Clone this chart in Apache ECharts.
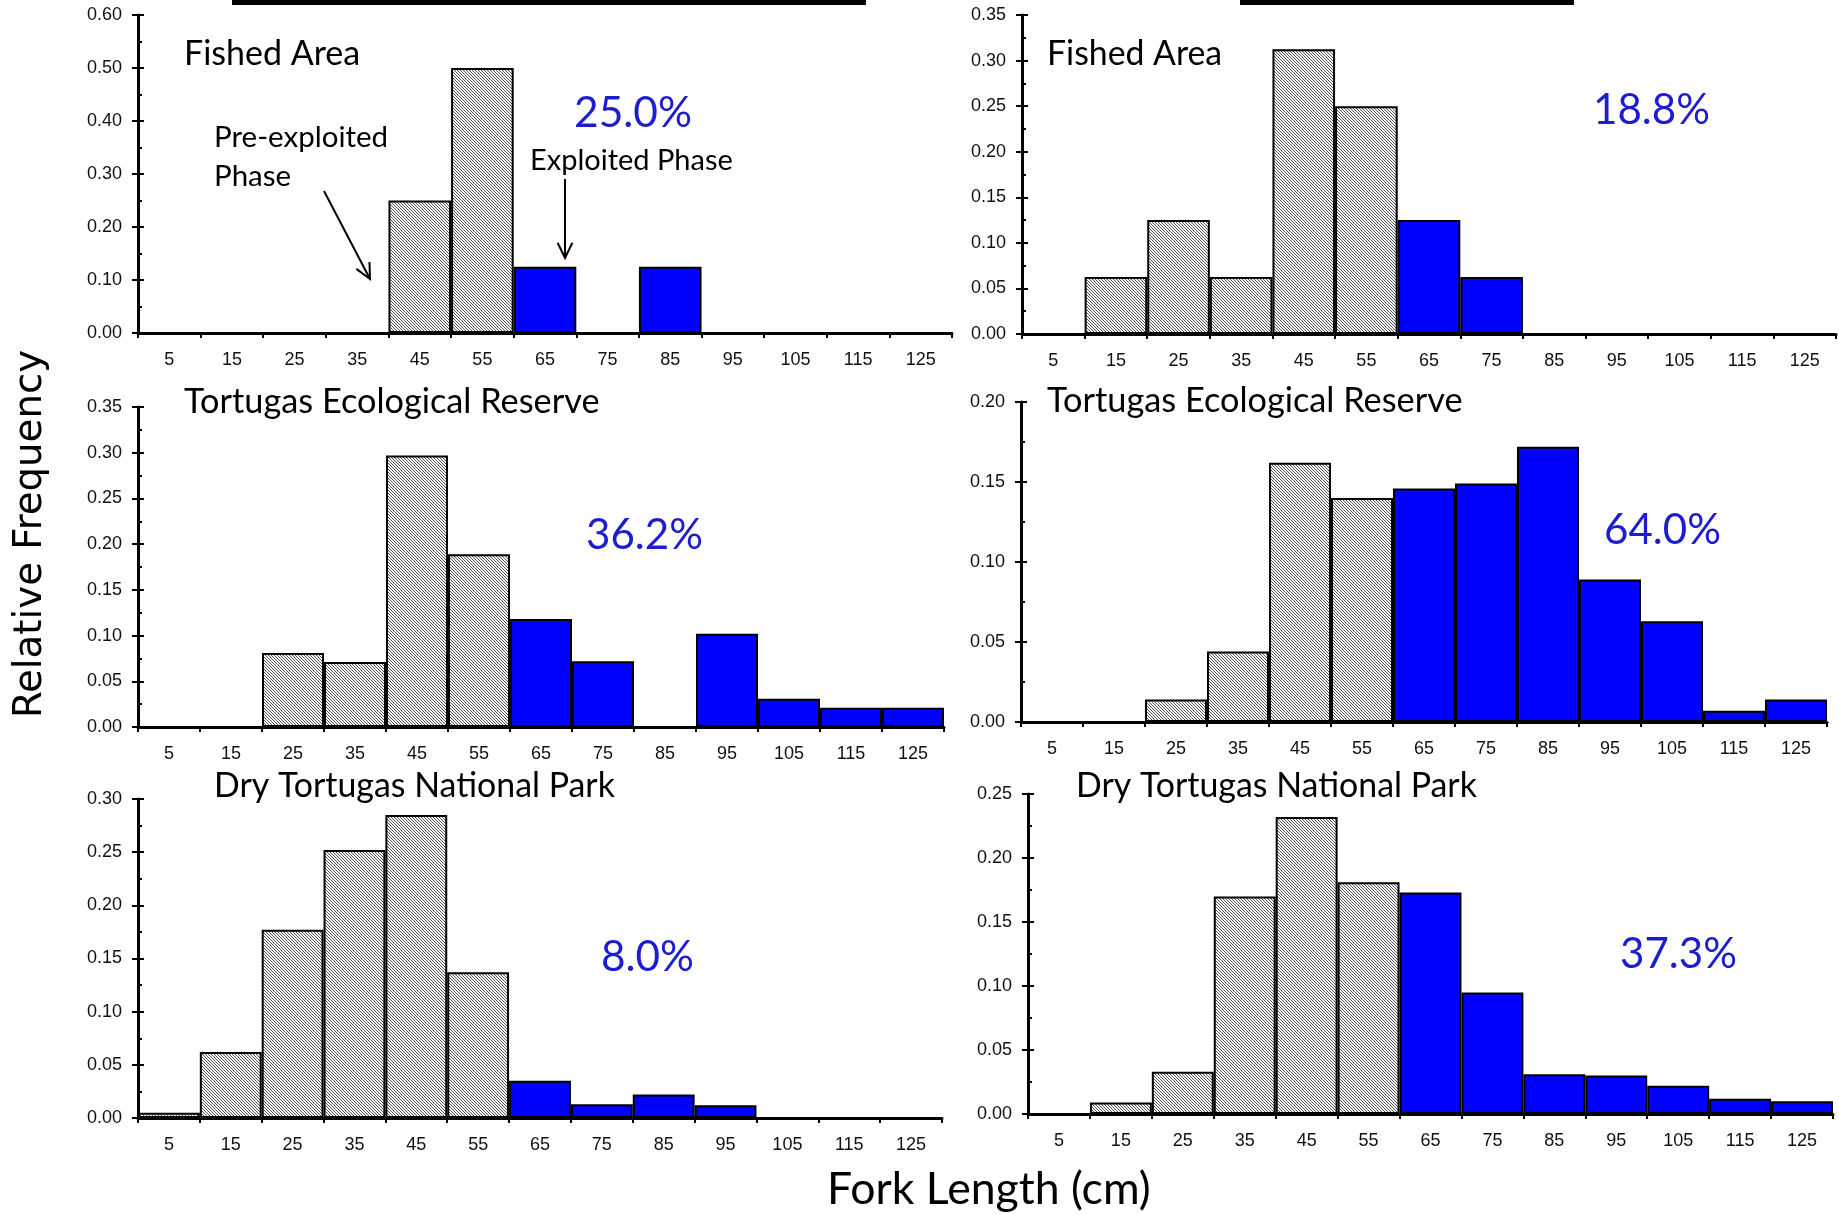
<!DOCTYPE html>
<html><head><meta charset="utf-8">
<script src="https://cdn.jsdelivr.net/npm/echarts@6/dist/echarts.min.js"></script>
<style>html,body{margin:0;padding:0;background:#fff}#c{width:1839px;height:1215px}</style>
</head><body><div id="c"></div>
<script>
// ---------- data ----------
const lengthBins = ['5','15','25','35','45','55','65','75','85','95','105','115','125'];
const exploitedFromIndex = 6; // bins from 60 cm up are the exploited phase
const fishedPre = [0,0,0,0,0.25,0.50,0.125,0,0.125,0,0,0,0];
const fishedPost = [0,0.0625,0.125,0.0625,0.3125,0.25,0.125,0.0625,0,0,0,0,0];
const reservePre = [0,0,0.081,0.071,0.297,0.189,0.118,0.072,0,0.102,0.031,0.021,0.021];
const reservePost = [0,0,0.014,0.044,0.162,0.140,0.146,0.149,0.172,0.089,0.063,0.007,0.014];
const parkPre = [0.005,0.062,0.177,0.252,0.285,0.137,0.035,0.013,0.022,0.012,0,0,0];
const parkPost = [0,0.009,0.033,0.170,0.232,0.181,0.173,0.095,0.031,0.030,0.022,0.012,0.010];
const percentLabels = ['25.0%','18.8%','36.2%','64.0%','8.0%','37.3%'];
const panelTitles = ['Fished Area','Fished Area','Tortugas Ecological Reserve','Tortugas Ecological Reserve','Dry Tortugas National Park','Dry Tortugas National Park'];
const yMaxes = [0.60,0.35,0.35,0.20,0.30,0.25];
const ySteps = [0.10,0.05,0.05,0.05,0.05,0.05];
const panelValues = [fishedPre, fishedPost, reservePre, reservePost, parkPre, parkPost];

// ---------- layout (pixels) ----------
const grids = [
  {left:138, top:15, width:814, height:318},
  {left:1022, top:15, width:814, height:319},
  {left:138, top:407, width:806, height:320},
  {left:1021, top:402, width:806, height:320},
  {left:138, top:799, width:804, height:319},
  {left:1028, top:794, width:805, height:320}
];
const titlePos = [[184,54,176],[1047,54,175],[184,402,415],[1047,401,415],[214,786,401],[1076,786,401]];
const pctPos = [[574,113,118],[1593,110,117],[586,535,117],[1604,530,117],[601,957,93],[1620,954,117]];

const BLUE = '#0000ff';
const PCT = '#1c1cd0';
const CAL = 'Lato';

function hatch(){
  const n=12, s=3;
  const c=document.createElement('canvas'); c.width=n; c.height=n;
  const g=c.getContext('2d'); const img=g.createImageData(n,n);
  for(let y=0;y<n;y++)for(let x=0;x<n;x++){
    const dark=(((x-y)%s)+s)%s===0; const v=dark?90:246; const k=(y*n+x)*4;
    img.data[k]=v;img.data[k+1]=v;img.data[k+2]=v;img.data[k+3]=255;
  }
  g.putImageData(img,0,0); return c;
}
const hatchCanvas = hatch();

const mctx=document.createElement('canvas').getContext('2d');
function fit(text,family,width){ mctx.font='100px '+family; return 100*width/mctx.measureText(text).width; }

const xAxis=[], yAxis=[], series=[];
grids.forEach((g,i)=>{
  xAxis.push({type:'category', gridIndex:i, data:lengthBins, boundaryGap:true,
    axisLine:{show:true, onZero:true, lineStyle:{color:'#000', width:3}},
    axisTick:{show:true, interval:0, length:5, lineStyle:{color:'#000', width:2}},
    axisLabel:{interval:0, margin:18, fontSize:18, fontFamily:'Liberation Sans, Arial, sans-serif', color:'#111'},
    splitLine:{show:false}});
  yAxis.push({type:'value', gridIndex:i, min:0, max:yMaxes[i], interval:ySteps[i], position:'left',
    axisLine:{show:true, lineStyle:{color:'#000', width:3}},
    axisTick:{show:true, length:6, lineStyle:{color:'#000', width:2}},
    axisLabel:{margin:16, fontSize:18, fontFamily:'Liberation Sans, Arial, sans-serif', color:'#111', formatter:v=>v.toFixed(2)},
    splitLine:{show:false}});
  yAxis.push({type:'value', gridIndex:i, min:0, max:yMaxes[i], interval:ySteps[i], position:'left',
    axisLine:{show:false}, axisLabel:{show:false},
    axisTick:{show:true, inside:true, length:6, lineStyle:{color:'#000', width:2}},
    minorTick:{show:true, splitNumber:2, length:4, lineStyle:{color:'#000', width:2}},
    splitLine:{show:false}, minorSplitLine:{show:false}});
  series.push({type:'bar', xAxisIndex:i, yAxisIndex:2*i, barCategoryGap:'0%', silent:true,
    data: panelValues[i].map((v,j)=>({value:v, itemStyle:{
      color: j>=exploitedFromIndex ? BLUE : {image:hatchCanvas, repeat:'repeat'},
      borderColor:'#000', borderWidth:2}}))});
});

const graphic=[];
// cropped title bars at the very top
graphic.push({type:'rect', shape:{x:232,y:0,width:634,height:5}, style:{fill:'#000'}});
graphic.push({type:'rect', shape:{x:1240,y:0,width:334,height:5}, style:{fill:'#000'}});
function addText(text,x,y,width,family,color,extra){
  const size=fit(text,family,width);
  graphic.push(Object.assign({type:'text', x:x, y:y, z:10, style:{text:text, x:0, y:0, fill:color,
    font: size.toFixed(1)+'px '+family, textAlign:'left', textVerticalAlign:'middle'}}, extra||{}));
}
panelTitles.forEach((t,i)=>addText(t,titlePos[i][0],titlePos[i][1],titlePos[i][2],CAL,'#000'));
percentLabels.forEach((t,i)=>addText(t,pctPos[i][0],pctPos[i][1],pctPos[i][2],CAL,PCT));
addText('Pre-exploited',214,137,174,CAL,'#000');
const preSize=fit('Pre-exploited',CAL,174);
graphic.push({type:'text', x:214, y:176, z:10, style:{text:'Phase', fill:'#000', font:preSize.toFixed(1)+'px '+CAL, textAlign:'left', textVerticalAlign:'middle'}});
addText('Exploited Phase',530,161,203,CAL,'#000');
addText('Fork Length (cm)',827,1190,324,CAL,'#000');
// rotated y title
const rfSize=fit('Relative Frequency','DejaVu Sans',368);
graphic.push({type:'text', x:31, y:534, rotation:Math.PI/2, z:10, style:{text:'Relative Frequency', fill:'#000',
  font: rfSize.toFixed(1)+'px DejaVu Sans', textAlign:'center', textVerticalAlign:'middle'}});
// arrows
function arrow(x1,y1,x2,y2){
  graphic.push({type:'line', z:10, shape:{x1,y1,x2,y2}, style:{stroke:'#000', lineWidth:2}});
  const a=Math.atan2(y2-y1,x2-x1), L=17, sp=0.45;
  graphic.push({type:'polyline', z:10, shape:{points:[
    [x2-L*Math.cos(a-sp), y2-L*Math.sin(a-sp)],[x2,y2],[x2-L*Math.cos(a+sp), y2-L*Math.sin(a+sp)]]},
    style:{stroke:'#000', lineWidth:2, fill:null}});
}
arrow(324,191,370,279);
arrow(565,179,565,258);

const chart=echarts.init(document.getElementById('c'),null,{renderer:'canvas'});
chart.setOption({animation:false, backgroundColor:'#fff', grid:grids, xAxis, yAxis, series, graphic});
</script></body></html>
